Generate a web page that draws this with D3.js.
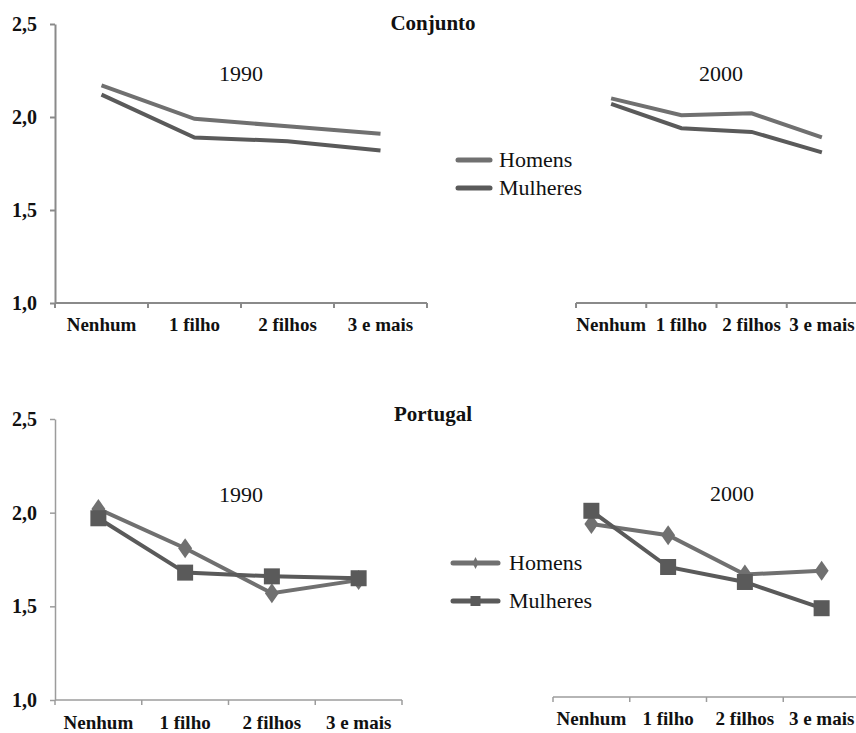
<!DOCTYPE html>
<html><head><meta charset="utf-8">
<script src="https://cdn.jsdelivr.net/npm/d3@7"></script>
</head>
<body style="margin:0">
<script>
const categories = ["Nenhum","1 filho","2 filhos","3 e mais"];
const yTicks = [1.0,1.5,2.0,2.5];
const seriesNames = ["Homens","Mulheres"];
const sectionTitles = ["Conjunto","Portugal"];
const years = ["1990","2000"];
const conj1990Homens = [2.17,1.99,1.95,1.91];
const conj1990Mulheres = [2.12,1.89,1.87,1.82];
const conj2000Homens = [2.10,2.01,2.02,1.89];
const conj2000Mulheres = [2.07,1.94,1.92,1.81];
const port1990Homens = [2.02,1.81,1.57,1.64];
const port1990Mulheres = [1.97,1.68,1.66,1.65];
const port2000Homens = [1.94,1.88,1.67,1.69];
const port2000Mulheres = [2.01,1.71,1.63,1.49];

const svg=d3.select("body").append("svg").attr("width",856).attr("height",733)
  .style("display","block").style("font-family",'"Liberation Serif"');
const fmt=d=>d3.format(".1f")(d).replace(".",",");
const colH="#707070", colM="#5a5a5a";

function txt(sel,size,bold){
  return sel.style("font-family",'"Liberation Serif"').style("font-size",size+"px")
    .style("font-weight",bold?"bold":"normal").style("fill","#111");
}

function panel(o){
  const g=svg.append("g");
  const x=d3.scaleBand().domain(categories).range(o.xr).padding(0);
  const y=d3.scaleLinear().domain([1,2.5]).range(o.yr);
  const axY=y(1)+(o.axOff||0);
  g.append("line").attr("x1",o.xr[0]).attr("x2",o.xr[1]).attr("y1",axY).attr("y2",axY)
    .attr("stroke",o.axCol).attr("stroke-width",o.axW);
  const bounds=categories.map(c=>x(c)).concat([o.xr[1]]);
  g.selectAll(".xt").data(bounds).join("line").attr("x1",d=>d).attr("x2",d=>d)
    .attr("y1",axY).attr("y2",axY+5).attr("stroke",o.axCol).attr("stroke-width",o.axW);
  txt(g.selectAll(".xl").data(categories).join("text")
    .attr("x",d=>x(d)+x.bandwidth()/2).attr("y",o.labY)
    .attr("text-anchor","middle"),19,true).text(d=>d);
  if(o.yAxis){
    const ax=d3.axisLeft(y).tickValues(yTicks).tickFormat(fmt).tickSize(5).tickSizeOuter(0).tickPadding(13);
    const ga=g.append("g").attr("transform",`translate(${o.xr[0]},0)`).call(ax);
    ga.attr("font-family",null).attr("font-size",null);
    ga.select(".domain").attr("stroke",o.axCol).attr("stroke-width",o.axW);
    ga.selectAll(".tick line").attr("stroke",o.axCol).attr("stroke-width",o.axW);
    txt(ga.selectAll(".tick text"),20,true);
  }
  const line=d3.line().x((d,i)=>x(categories[i])+x.bandwidth()/2).y(d=>y(d));
  [[o.h,colH,"diamond"],[o.m,colM,"square"]].forEach(([vals,c,mk])=>{
    g.append("path").datum(vals).attr("d",line).attr("fill","none")
      .attr("stroke",c).attr("stroke-width",4).attr("stroke-linejoin","miter");
    if(o.markers){
      vals.forEach((v,i)=>{
        const cx=x(categories[i])+x.bandwidth()/2, cy=y(v);
        if(mk==="square") g.append("rect").attr("x",cx-8).attr("y",cy-8).attr("width",16).attr("height",16).attr("fill",c);
        else g.append("path").attr("d",`M${cx},${cy-10}L${cx+7},${cy}L${cx},${cy+10}L${cx-7},${cy}Z`).attr("fill",c);
      });
    }
  });
  txt(g.append("text").attr("x",o.yearX).attr("y",o.yearY).attr("text-anchor","middle"),22,false).text(o.year);
}

function legend(lx,ly,gap,markers,tx){
  const g=svg.append("g");
  seriesNames.forEach((n,i)=>{
    const yy=ly+i*gap, c=i===0?colH:colM;
    const len=markers?45:32;
    g.append("line").attr("x1",lx).attr("x2",lx+len).attr("y1",yy).attr("y2",yy)
      .attr("stroke",c).attr("stroke-width",5).attr("stroke-linecap","round");
    if(markers){
      const cx=lx+len/2;
      if(i===0) g.append("path").attr("d",`M${cx},${yy-6}L${cx+3},${yy}L${cx},${yy+6}L${cx-3},${yy}Z`).attr("fill",c);
      else g.append("rect").attr("x",cx-5).attr("y",yy-5).attr("width",10).attr("height",10).attr("fill",c);
    }
    txt(g.append("text").attr("x",tx).attr("y",yy+7),22,false).text(n);
  });
}

txt(svg.append("text").attr("x",433).attr("y",30).attr("text-anchor","middle"),21,true).text(sectionTitles[0]);
txt(svg.append("text").attr("x",433).attr("y",421).attr("text-anchor","middle"),21,true).text(sectionTitles[1]);

panel({xr:[55,427],yr:[303,24],axCol:"#8a8a8a",axW:2,labY:331,yAxis:true,h:conj1990Homens,m:conj1990Mulheres,markers:false,year:years[0],yearX:241,yearY:81});
panel({xr:[576,857],yr:[303,24],axCol:"#8a8a8a",axW:2,labY:331,yAxis:false,h:conj2000Homens,m:conj2000Mulheres,markers:false,year:years[1],yearX:721,yearY:81});
panel({xr:[55,402],yr:[700,419],axCol:"#9c9c9c",axW:1.5,labY:729,yAxis:true,h:port1990Homens,m:port1990Mulheres,markers:true,year:years[0],yearX:241,yearY:502});
panel({xr:[553,860],yr:[700,419],axOff:-3,axCol:"#9c9c9c",axW:1.5,labY:725,yAxis:false,h:port2000Homens,m:port2000Mulheres,markers:true,year:years[1],yearX:732,yearY:501});

legend(458,160,28,false,499);
legend(453,563,38,true,509);
</script>
</body></html>
